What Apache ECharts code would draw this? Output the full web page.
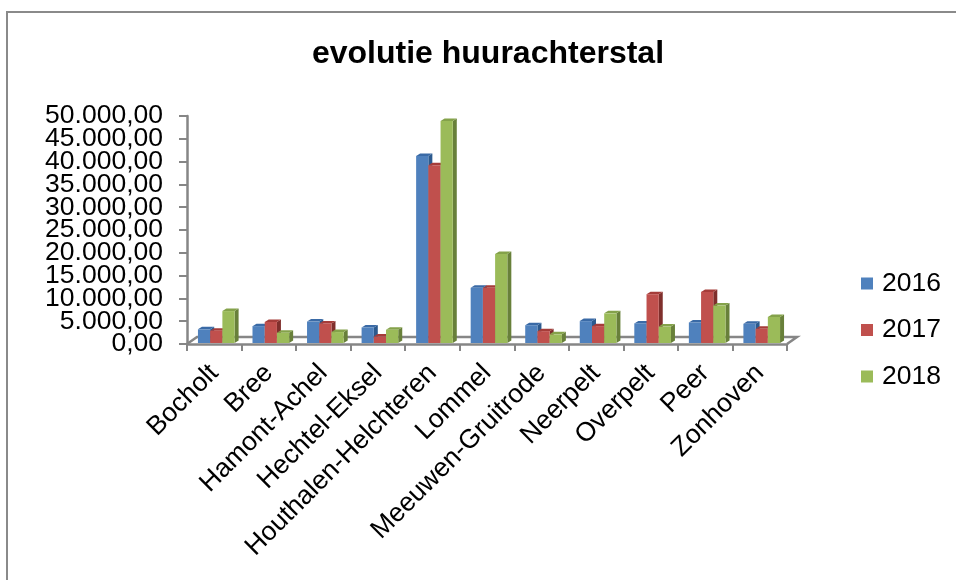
<!DOCTYPE html>
<html>
<head>
<meta charset="utf-8">
<style>
  html, body { margin: 0; padding: 0; background: #fff; }
  #chart { width: 956px; height: 580px; }
</style>
<script src="https://cdn.jsdelivr.net/npm/echarts@6/dist/echarts.min.js"></script>
</head>
<body>
<div id="chart"></div>
<script>
  const categories = ['Bocholt', 'Bree', 'Hamont-Achel', 'Hechtel-Eksel', 'Houthalen-Helchteren', 'Lommel',
    'Meeuwen-Gruitrode', 'Neerpelt', 'Overpelt', 'Peer', 'Zonhoven'];
  const values2016 = [3000, 3700, 4700, 3400, 41000, 12100, 3900, 4800, 4300, 4500, 4200];
  const values2017 = [2700, 4600, 4300, 1400, 39000, 12100, 2600, 3700, 10700, 11200, 3100];
  const values2018 = [7000, 2250, 2400, 2900, 48700, 19500, 1900, 6500, 3600, 8200, 5700];
  // y labels are packed tighter than their font, echarts drops some unless split over two axes
  const yLabelsEven = [0, 10000, 20000, 30000, 40000, 50000];
  const yLabelsOdd = [5000, 15000, 25000, 35000, 45000];

  const fontFamily = '"Liberation Sans", Arial, sans-serif';
  const axisColor = '#868686';
  const axisWidth = 2.5;
  const depthX = 4;
  const depthY = 2.5;

  // front, top and side colours of the 3d bars
  const palette = [
    { front: '#4F81BD', top: '#3A6AA6', side: '#2C5A8E' },
    { front: '#C0504D', top: '#A53C39', side: '#7F2F2C' },
    { front: '#9BBB59', top: '#84A24A', side: '#68803A' },
  ];

  const formatValue = function (v) {
    return String(v).replace(/\B(?=(\d{3})+$)/g, '.') + ',00';
  };

  const bar3d = function (seriesPos) {
    return function (params, api) {
      const band = api.size([1, 0])[0];
      const barWidth = band * 0.224;
      const base = api.coord([api.value(0), 0]);
      const top = api.coord([api.value(0), api.value(1)]);
      const x = base[0] - barWidth * 1.5 + 2 + seriesPos * barWidth;
      const yBase = base[1] - 1;
      const yTop = top[1] - 1;
      const c = palette[seriesPos];
      return {
        type: 'group',
        children: [
          {
            type: 'polygon',
            shape: { points: [[x + barWidth, yBase], [x + barWidth, yTop], [x + barWidth + depthX, yTop - depthY], [x + barWidth + depthX, yBase - depthY]] },
            style: { fill: c.side },
          },
          {
            type: 'polygon',
            shape: { points: [[x, yTop], [x + depthX, yTop - depthY], [x + barWidth + depthX, yTop - depthY], [x + barWidth, yTop]] },
            style: { fill: c.top },
          },
          {
            type: 'rect',
            shape: { x: x, y: yTop, width: barWidth, height: yBase - yTop },
            style: { fill: c.front },
          },
        ],
      };
    };
  };

  // floor of the 3d plot, hung on the axes
  const floor = function (params, api) {
    const cs = params.coordSys;
    const bottom = cs.y + cs.height;
    const right = cs.x + cs.width;
    return {
      type: 'polyline',
      shape: { points: [[cs.x, bottom], [cs.x + 10, bottom - 7], [right + 10, bottom - 7], [right, bottom]] },
      style: { fill: null, stroke: axisColor, lineWidth: axisWidth },
    };
  };

  const makeSeries = function (name, values, seriesPos) {
    return {
      name: name,
      type: 'custom',
      renderItem: bar3d(seriesPos),
      encode: { x: 0, y: 1 },
      itemStyle: { color: palette[seriesPos].front },
      data: values.map(function (v, i) { return [i, v]; }),
      z: 3,
    };
  };

  const yLabelStyle = {
    margin: 24,
    padding: [4, 0, 0, 0],
    fontFamily: fontFamily,
    fontSize: 26.5,
    color: '#000',
    formatter: formatValue,
  };

  const option = {
    animation: false,
    backgroundColor: '#fff',
    graphic: [
      {
        type: 'rect',
        shape: { x: 7, y: 12, width: 1000, height: 600 },
        style: { fill: null, stroke: '#8a8a8a', lineWidth: 2 },
        silent: true,
      },
    ],
    title: {
      text: 'evolutie huurachterstal',
      left: 483,
      top: 33,
      textAlign: 'center',
      textStyle: { fontFamily: fontFamily, fontSize: 32, fontWeight: 'bold', color: '#000' },
    },
    legend: {
      orient: 'vertical',
      left: 861,
      top: 270,
      padding: 0,
      itemWidth: 12,
      itemHeight: 12,
      itemGap: 19.5,
      icon: 'rect',
      data: ['2016', '2017', '2018'],
      textStyle: { fontFamily: fontFamily, fontSize: 26.5, color: '#000', padding: [0, 0, 0, 4] },
    },
    grid: { left: 187, right: 169, top: 116, bottom: 236 },
    xAxis: {
      type: 'category',
      data: categories,
      axisLine: { lineStyle: { color: axisColor, width: axisWidth } },
      axisTick: { show: true, alignWithLabel: false, length: 7, lineStyle: { color: axisColor, width: 2 } },
      axisLabel: { interval: 0, rotate: 45, margin: 25, fontFamily: fontFamily, fontSize: 26.5, color: '#000' },
      splitLine: { show: false },
    },
    yAxis: [
      {
        type: 'value',
        position: 'left',
        min: 0,
        max: 50000,
        interval: 5000,
        axisLine: { show: true, lineStyle: { color: axisColor, width: axisWidth } },
        axisTick: { show: true, length: 8, lineStyle: { color: axisColor, width: 2 } },
        axisLabel: Object.assign({ customValues: yLabelsEven }, yLabelStyle),
        splitLine: { show: false },
      },
      {
        type: 'value',
        position: 'left',
        min: 0,
        max: 50000,
        interval: 5000,
        axisLine: { show: false },
        axisTick: { show: false },
        axisLabel: Object.assign({ customValues: yLabelsOdd }, yLabelStyle),
        splitLine: { show: false },
      },
    ],
    series: [
      {
        type: 'custom',
        renderItem: floor,
        encode: { x: 0, y: 1 },
        data: [[0, 0]],
        silent: true,
        z: 1,
      },
      makeSeries('2016', values2016, 0),
      makeSeries('2017', values2017, 1),
      makeSeries('2018', values2018, 2),
    ],
  };

  const myChart = echarts.init(document.getElementById('chart'));
  myChart.setOption(option);
</script>
</body>
</html>
